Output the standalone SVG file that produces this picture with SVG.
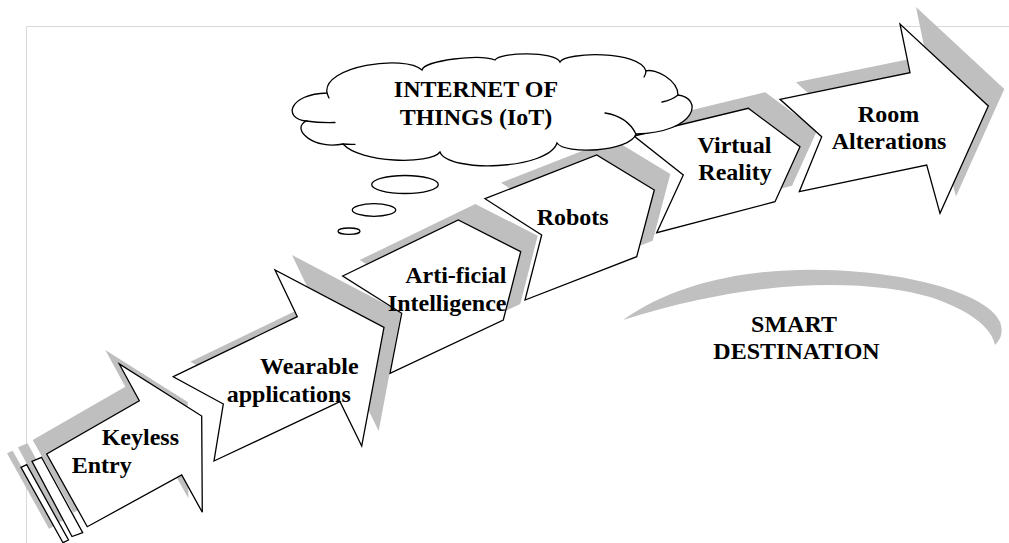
<svg xmlns="http://www.w3.org/2000/svg" width="1009" height="543" viewBox="0 0 1009 543">
  <style>
    .frame { fill: none; stroke: #d9d9d9; stroke-width: 1; }
    .shadow { fill: #bfbfbf; stroke: none; }
    .shape { fill: #ffffff; stroke: #000000; stroke-width: 1.3; stroke-linejoin: miter; }
    .line { fill: none; stroke: #000000; stroke-width: 1.3; stroke-linecap: round; }
    .crescent { fill: #c0c0c0; stroke: none; }
    .lbl { font-family: "Liberation Serif", "Times New Roman", serif; font-weight: bold; font-size: 24px; fill: #000000; }
  </style>

  <!-- page frame -->
  <path class="frame" d="M 26.5 543 L 26.5 26.5 L 1009 26.5"/>

  <!-- drop shadows behind the step arrows -->
  <g id="shadows">
    <g transform="translate(-14,-14)">
      <polygon class="shadow" points="21,467.3 26.7,464.7 68.5,540 63,542.7"/>
      <polygon class="shadow" points="32,461.3 41.5,457.3 82.7,532.7 72,536.5"/>
      <polygon class="shadow" points="87.3,526.7 46.7,454 139.3,400.7 119.3,364 201.7,416 202.3,512.3 181.7,475"/>
    </g>
    <polygon class="shadow" transform="translate(17,-15)" points="173.3,376.7 297.3,316.7 275,270 384,327.3 361.7,446 340,401.7 214,461 223.3,404"/>
    <polygon class="shadow" transform="translate(17,-16)" points="342.7,276 458.3,220 520.7,251.7 503.3,320 390,373.3 401.7,313.3"/>
    <polygon class="shadow" transform="translate(16,-16)" points="485,198.7 596.7,155 654.3,190 636.7,256.7 525,300 541.7,235"/>
    <polygon class="shadow" transform="translate(17,-16)" points="634,136 748.3,108.3 800,146.7 775,201.7 656.7,232.7 683.3,175"/>
    <polygon class="shadow" transform="translate(16,-17)" points="780,99.3 910,72.7 900,24 988.3,106 940,213.3 926.7,165 799.3,191.7 821.7,136.7"/>
  </g>

  <!-- step 1 -->
  <g id="keyless-entry">
    <polygon class="shape" points="21,467.3 26.7,464.7 68.5,540 63,542.7"/>
    <polygon class="shape" points="32,461.3 41.5,457.3 82.7,532.7 72,536.5"/>
    <polygon class="shape" points="87.3,526.7 46.7,454 139.3,400.7 119.3,364 201.7,416 202.3,512.3 181.7,475"/>
    <text class="lbl" x="101.7" y="444.5">Keyless</text>
    <text class="lbl" x="71.7" y="472.5">Entry</text>
  </g>

  <!-- step 2 -->
  <g id="wearable-applications">
    <polygon class="shape" points="173.3,376.7 297.3,316.7 275,270 384,327.3 361.7,446 340,401.7 214,461 223.3,404"/>
    <text class="lbl" x="260" y="374">Wearable</text>
    <text class="lbl" x="226.7" y="401.7">applications</text>
  </g>

  <!-- step 3 -->
  <g id="artificial-intelligence">
    <polygon class="shape" points="342.7,276 458.3,220 520.7,251.7 503.3,320 390,373.3 401.7,313.3"/>
    <text class="lbl" x="506.5" y="283.3" text-anchor="end">Arti-ficial</text>
    <text class="lbl" x="506.5" y="311" text-anchor="end">Intelligence</text>
  </g>

  <!-- step 4 -->
  <g id="robots">
    <polygon class="shape" points="485,198.7 596.7,155 654.3,190 636.7,256.7 525,300 541.7,235"/>
    <text class="lbl" x="536.7" y="225">Robots</text>
  </g>

  <!-- step 5 -->
  <g id="virtual-reality">
    <polygon class="shape" points="634,136 748.3,108.3 800,146.7 775,201.7 656.7,232.7 683.3,175"/>
    <text class="lbl" x="734.5" y="153.3" text-anchor="middle">Virtual</text>
    <text class="lbl" x="735" y="180" text-anchor="middle">Reality</text>
  </g>

  <!-- step 6 -->
  <g id="room-alterations">
    <polygon class="shape" points="780,99.3 910,72.7 900,24 988.3,106 940,213.3 926.7,165 799.3,191.7 821.7,136.7"/>
    <text class="lbl" x="888.5" y="121.7" text-anchor="middle">Room</text>
    <text class="lbl" x="889" y="149" text-anchor="middle">Alterations</text>
  </g>

  <!-- thought cloud -->
  <g id="iot-cloud">
    <path class="shape" d="M 327 93
      C 322 66, 405 54, 422 70
      C 425 60, 480 54, 495 60
      C 500 52, 555 51, 560 62
      C 565 52, 640 50, 646 71
      C 655 68, 678 80, 678 95
      C 703 98, 698 132, 636 134
      C 630 152, 565 155, 557 143
      C 548 170, 448 173, 440 152
      C 430 165, 360 163, 343 144
      C 315 150, 290 130, 306 121
      C 283 119, 288 94, 327 93 Z"/>
    <path class="line" d="M 306 121 Q 320 123 335 122.5"/>
    <path class="line" d="M 343 144 Q 349 144.5 355 144.3"/>
    <path class="line" d="M 327 93 Q 328 96 329 98"/>
    <path class="line" d="M 636 134 C 630 122, 618 115, 605 113"/>
    <path class="line" d="M 678 95 Q 672 100 662 102"/>
    <path class="line" d="M 646 71 Q 646 74 644 77"/>
    <text class="lbl" x="476" y="97" text-anchor="middle">INTERNET OF</text>
    <text class="lbl" x="476" y="124.5" text-anchor="middle">THINGS (IoT)</text>
  </g>

  <!-- thought bubbles -->
  <g id="bubbles">
    <ellipse class="shape" cx="405" cy="184.5" rx="33.3" ry="9"/>
    <ellipse class="shape" cx="374" cy="210" rx="21.7" ry="6.3"/>
    <ellipse class="shape" cx="349" cy="231.2" rx="11" ry="3.2"/>
  </g>

  <!-- destination arc -->
  <g id="smart-destination">
    <path class="crescent" d="M 623 320 C 685 276, 775 264, 860 272 C 930 278, 990 298, 1000 322 C 1004 333, 1000 340, 995 345 C 992 330, 975 312, 930 297 C 870 280, 760 276, 623 320 Z"/>
    <text class="lbl" x="794" y="331.5" text-anchor="middle">SMART</text>
    <text class="lbl" x="796.5" y="359" text-anchor="middle">DESTINATION</text>
  </g>
</svg>
